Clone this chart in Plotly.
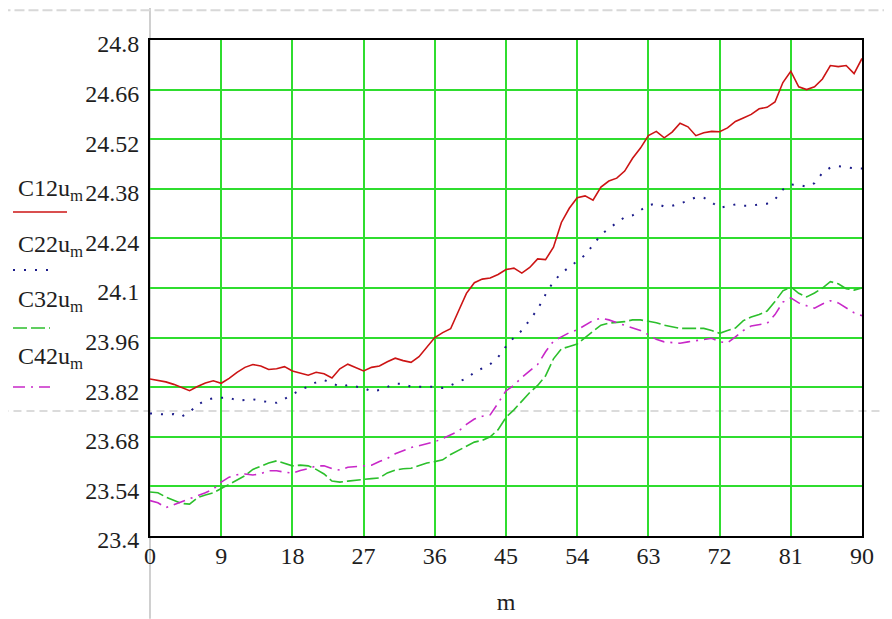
import plotly.graph_objects as go

m = list(range(0, 91))

C12 = [23.843, 23.840, 23.835, 23.828, 23.818, 23.810, 23.822, 23.832, 23.838, 23.831,
       23.845, 23.862, 23.876, 23.884, 23.880, 23.870, 23.872, 23.878, 23.866, 23.860,
       23.854, 23.862, 23.858, 23.846, 23.872, 23.885, 23.876, 23.866, 23.876, 23.880,
       23.892, 23.902, 23.895, 23.890, 23.906, 23.934, 23.960, 23.974, 23.985, 24.035,
       24.085, 24.115, 24.125, 24.128, 24.138, 24.152, 24.156, 24.142, 24.158, 24.182,
       24.180, 24.215, 24.285, 24.325, 24.355, 24.360, 24.348, 24.385, 24.402, 24.410,
       24.430, 24.466, 24.495, 24.530, 24.542, 24.524, 24.540, 24.565, 24.555, 24.530,
       24.538, 24.542, 24.541, 24.552, 24.570, 24.580, 24.590, 24.606, 24.610, 24.625,
       24.680, 24.712, 24.668, 24.660, 24.668, 24.690, 24.728, 24.725, 24.728, 24.705,
       24.748]

C22 = [23.746, 23.744, 23.743, 23.744, 23.737, 23.750, 23.770, 23.783, 23.789, 23.790,
       23.791, 23.782, 23.785, 23.786, 23.781, 23.779, 23.776, 23.787, 23.800, 23.812,
       23.822, 23.834, 23.840, 23.832, 23.821, 23.826, 23.822, 23.818, 23.808, 23.812,
       23.821, 23.830, 23.830, 23.821, 23.821, 23.821, 23.821, 23.818, 23.825, 23.836,
       23.844, 23.862, 23.874, 23.885, 23.905, 23.935, 23.960, 23.980, 24.010, 24.040,
       24.082, 24.118, 24.142, 24.158, 24.176, 24.193, 24.223, 24.250, 24.268, 24.284,
       24.300, 24.305, 24.320, 24.334, 24.338, 24.330, 24.332, 24.338, 24.347, 24.356,
       24.355, 24.342, 24.326, 24.331, 24.336, 24.332, 24.332, 24.336, 24.338, 24.350,
       24.378, 24.392, 24.391, 24.386, 24.396, 24.425, 24.440, 24.444, 24.440, 24.438,
       24.437]

C32 = [23.524, 23.522, 23.510, 23.500, 23.492, 23.490, 23.508, 23.516, 23.522, 23.534,
       23.546, 23.556, 23.570, 23.588, 23.598, 23.606, 23.612, 23.605, 23.598, 23.600,
       23.598, 23.588, 23.575, 23.555, 23.552, 23.555, 23.558, 23.560, 23.562, 23.564,
       23.578, 23.586, 23.590, 23.591, 23.598, 23.606, 23.610, 23.615, 23.630, 23.642,
       23.655, 23.665, 23.670, 23.680, 23.700, 23.735, 23.756, 23.780, 23.805, 23.825,
       23.852, 23.900, 23.928, 23.935, 23.942, 23.960, 23.978, 23.995, 24.001, 24.002,
       24.005, 24.010, 24.010, 24.006, 24.002, 23.995, 23.990, 23.986, 23.986, 23.986,
       23.986, 23.980, 23.972, 23.980, 23.987, 24.008, 24.018, 24.025, 24.035, 24.062,
       24.092, 24.103, 24.085, 24.075, 24.086, 24.100, 24.118, 24.112, 24.098, 24.094,
       24.100]

C42 = [23.500, 23.494, 23.480, 23.488, 23.498, 23.506, 23.512, 23.522, 23.532, 23.552,
       23.566, 23.573, 23.575, 23.572, 23.576, 23.584, 23.584, 23.580, 23.577, 23.585,
       23.590, 23.598, 23.598, 23.590, 23.586, 23.594, 23.596, 23.598, 23.600, 23.610,
       23.619, 23.632, 23.642, 23.650, 23.655, 23.660, 23.666, 23.675, 23.685, 23.696,
       23.715, 23.730, 23.738, 23.742, 23.775, 23.810, 23.825, 23.848, 23.866, 23.884,
       23.920, 23.950, 23.962, 23.974, 23.982, 23.996, 24.008, 24.015, 24.010, 24.002,
       23.995, 23.988, 23.980, 23.968, 23.955, 23.948, 23.946, 23.944, 23.948, 23.952,
       23.955, 23.958, 23.948, 23.945, 23.962, 23.980, 23.993, 23.996, 24.000, 24.025,
       24.060, 24.072, 24.058, 24.050, 24.043, 24.055, 24.064, 24.058, 24.045, 24.030,
       24.022]

series_names = ["C12u<sub>m</sub>", "C22u<sub>m</sub>", "C32u<sub>m</sub>", "C42u<sub>m</sub>"]

y_ticks = [23.4, 23.54, 23.68, 23.82, 23.96, 24.1, 24.24, 24.38, 24.52, 24.66, 24.8]
y_tick_labels = ["23.4", "23.54", "23.68", "23.82", "23.96", "24.1", "24.24", "24.38", "24.52", "24.66", "24.8"]
x_ticks = [0, 9, 18, 27, 36, 45, 54, 63, 72, 81, 90]

FONT = "Liberation Serif"
TXT = "#1e1e1e"
GRID = "#2fdd2f"

styles = [
    dict(color="#cc1414", width=1.6, dash="solid"),
    dict(color="#1c1c8a", width=2, dash="2px,9px"),
    dict(color="#2cbf2c", width=1.6, dash="14px,4px"),
    dict(color="#c828c8", width=1.6, dash="12px,6px,2px,6px"),
]

fig = go.Figure()
for ys, st in zip([C12, C22, C32, C42], styles):
    fig.add_trace(go.Scatter(x=m, y=ys, mode="lines", line=st, showlegend=False,
                             hoverinfo="skip"))

# the page body adds an 8px offset, so margins are shifted to keep the plot area at 150..862 x 40..536
fig.update_layout(
    width=892, height=619,
    margin=dict(l=142, r=38, t=32, b=91, autoexpand=False),
    paper_bgcolor="white", plot_bgcolor="white",
    font=dict(family=FONT, size=24, color=TXT),
    showlegend=False,
)
fig.update_xaxes(
    range=[0, 90], tickvals=x_ticks, ticktext=[str(v) for v in x_ticks],
    showgrid=True, gridcolor=GRID, gridwidth=2,
    showline=True, linecolor="black", linewidth=2, mirror=True,
    zeroline=False, ticks="", ticklabelstandoff=-3, automargin=False,
    tickfont=dict(family=FONT, size=24, color=TXT),
    title=dict(text="m", font=dict(family=FONT, size=24, color=TXT), standoff=25),
)
fig.update_yaxes(
    range=[23.4, 24.8], tickvals=y_ticks, ticktext=y_tick_labels,
    showgrid=True, gridcolor=GRID, gridwidth=2,
    showline=True, linecolor="black", linewidth=2, mirror=True,
    zeroline=False, ticks="", ticklabelstandoff=4, ticklabelshift=4, automargin=False,
    tickfont=dict(family=FONT, size=24, color=TXT),
)

# Mathcad-style crosshair decorations
fig.add_shape(type="line", xref="paper", yref="paper", x0=-0.21, x1=1.042, y0=0.252, y1=0.252,
              line=dict(color="#b8b8b8", width=1.2, dash="8px,5px"), layer="between")
fig.add_shape(type="line", xref="paper", yref="paper", x0=0, x1=0, y0=-0.167, y1=1.07,
              line=dict(color="#b0b0b0", width=1.2), layer="between")
fig.add_shape(type="line", xref="paper", yref="paper", x0=-0.21, x1=1.042, y0=1.06, y1=1.06,
              line=dict(color="#d8d8d8", width=2, dash="10px,4px"), layer="between")

# Left-side legend
def px_x(px):
    return (px - 150) / 712.0

def px_y(py):
    return (536 - py) / 496.0

text_y = [190, 246, 301, 358]
line_y = [212, 270, 328, 387]
line_x1 = [67, 56, 50, 50]
for name, ty, ly, lx1, st in zip(series_names, text_y, line_y, line_x1, styles):
    fig.add_annotation(x=px_x(16), y=px_y(ty), xref="paper", yref="paper",
                       text=name, showarrow=False, xanchor="left", yanchor="middle",
                       font=dict(family=FONT, size=24, color=TXT))
    fig.add_shape(type="line", xref="paper", yref="paper",
                  x0=px_x(13), x1=px_x(lx1), y0=px_y(ly), y1=px_y(ly),
                  line=st)

fig.write_html("out.html")
